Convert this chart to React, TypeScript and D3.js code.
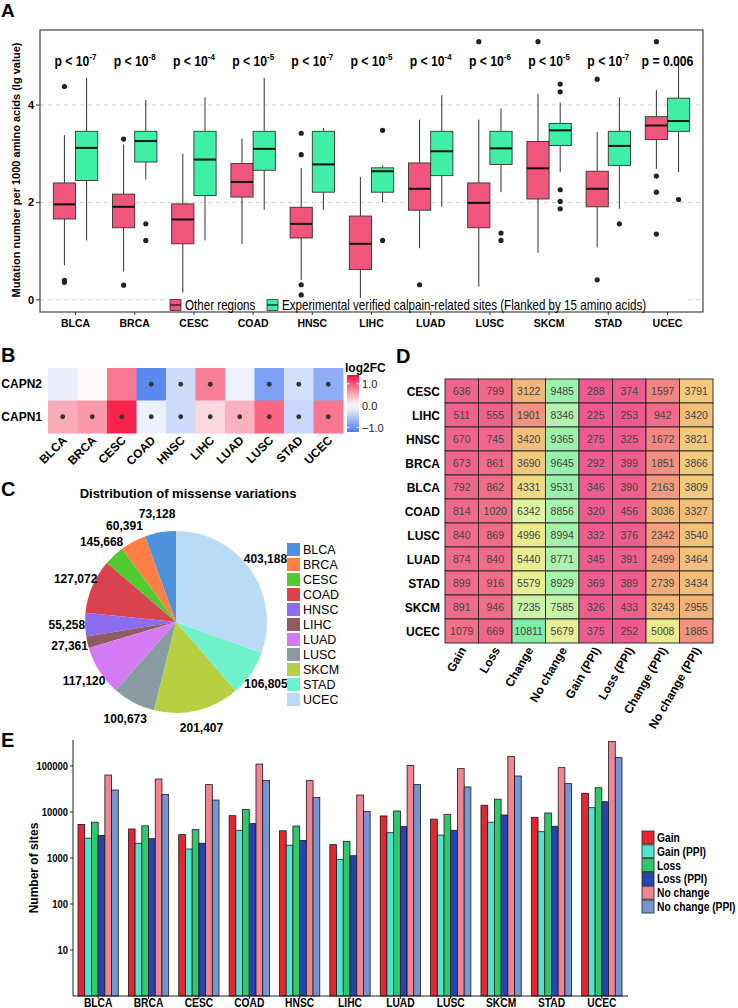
import React from "react";
import * as d3 from "d3";

const FONT = "'Liberation Sans', Arial, sans-serif";

// ---------- Panel A ----------
const categoriesA = ["BLCA", "BRCA", "CESC", "COAD", "HNSC", "LIHC", "LUAD", "LUSC", "SKCM", "STAD", "UCEC"];
// [lower whisker, Q1, median, Q3, upper whisker]
const otherStats = [
  [0.71, 1.66, 1.96, 2.40, 3.38],
  [0.58, 1.48, 1.91, 2.17, 3.19],
  [0.15, 1.15, 1.65, 1.97, 3.00],
  [1.15, 2.11, 2.42, 2.80, 3.31],
  [0.41, 1.27, 1.56, 1.90, 2.71],
  [0.00, 0.62, 1.15, 1.72, 2.52],
  [1.06, 1.84, 2.28, 2.81, 3.70],
  [0.27, 1.48, 1.99, 2.40, 3.70],
  [0.97, 2.07, 2.70, 3.25, 4.23],
  [1.08, 1.91, 2.28, 2.64, 3.45],
  [2.69, 3.29, 3.58, 3.76, 4.31],
];
const otherOutliers = [
  [4.38, 0.40, 0.36], [3.30, 0.30], [], [], [3.42, 2.98, 0.31, 0.10], [],
  [0.31], [5.30], [5.30], [4.53, 0.41], [5.30, 2.54, 2.21, 1.35],
];
const calpainStats = [
  [1.22, 2.45, 3.12, 3.46, 4.56],
  [2.47, 2.83, 3.26, 3.46, 4.10],
  [1.22, 2.14, 2.88, 3.46, 4.16],
  [1.85, 2.66, 3.10, 3.46, 4.56],
  [1.85, 2.21, 2.78, 3.46, 3.53],
  [2.00, 2.21, 2.64, 2.71, 2.76],
  [1.91, 2.55, 3.05, 3.46, 4.20],
  [2.21, 2.78, 3.11, 3.46, 3.93],
  [2.62, 3.17, 3.48, 3.62, 4.05],
  [1.87, 2.76, 3.16, 3.46, 4.16],
  [2.62, 3.46, 3.67, 4.14, 4.87],
];
const calpainOutliers = [
  [], [1.56, 1.22], [], [], [], [3.48, 1.22], [], [1.37, 1.22],
  [4.43, 4.27, 2.26, 2.02, 1.87], [1.56], [2.06],
];
const pExponents = ["-7", "-8", "-4", "-5", "-7", "-5", "-4", "-6", "-5", "-7", ""];
const pExact = ["", "", "", "", "", "", "", "", "", "", "p = 0.006"];
const yTicksA = [0, 2, 4];
const seriesA = ["Other regions", "Experimental verified calpain-related sites (Flanked by 15 amino acids)"];
const colorsA = ["#F0557C", "#3FEFA6"];

// ---------- Panel B ----------
const categoriesB = ["BLCA", "BRCA", "CESC", "COAD", "HNSC", "LIHC", "LUAD", "LUSC", "STAD", "UCEC"];
const genesB = ["CAPN2", "CAPN1"];
const capn2FC = [-0.15, 0.03, 0.8, -1.1, -0.32, 0.75, -0.12, -0.88, -0.28, -0.76];
const capn1FC = [0.5, 0.6, 1.3, -0.13, -0.33, 0.23, 0.46, 0.9, -0.37, 0.8];
const capn2Sig = [0, 0, 0, 1, 1, 1, 0, 1, 1, 1];
const capn1Sig = [1, 1, 1, 1, 1, 1, 1, 1, 1, 1];
const legendTicksB = [1, 0, -1];

// ---------- Panel C ----------
const pieCategories = ["BLCA", "BRCA", "CESC", "COAD", "HNSC", "LIHC", "LUAD", "LUSC", "SKCM", "STAD", "UCEC"];
const pieValues = [73128, 60391, 48000, 127072, 55258, 27361, 117120, 100673, 201407, 106805, 403188];
const pieLabels = ["73,128", "60,391", "145,668", "127,072", "55,258", "27,361", "117,120", "100,673", "201,407", "106,805", "403,188"];
const pieColors = ["#4C93DB", "#FF7F45", "#50CC32", "#D9434F", "#8D6CF2", "#8E5C62", "#D47AF2", "#8A9BA1", "#B8CF42", "#6FF2CB", "#B9DBF6"];

// ---------- Panel D ----------
const rowsD = ["CESC", "LIHC", "HNSC", "BRCA", "BLCA", "COAD", "LUSC", "LUAD", "STAD", "SKCM", "UCEC"];
const colsD = ["Gain", "Loss", "Change", "No change", "Gain (PPI)", "Loss (PPI)", "Change (PPI)", "No change (PPI)"];
const valuesD = [
  [636, 799, 3122, 9485, 288, 374, 1597, 3791],
  [511, 555, 1901, 8346, 225, 253, 942, 3420],
  [670, 745, 3420, 9365, 275, 325, 1672, 3821],
  [673, 861, 3690, 9645, 292, 399, 1851, 3866],
  [792, 862, 4331, 9531, 346, 390, 2163, 3809],
  [814, 1020, 6342, 8856, 320, 456, 3036, 3327],
  [840, 869, 4996, 8994, 332, 376, 2342, 3540],
  [874, 840, 5440, 8771, 345, 391, 2499, 3464],
  [899, 916, 5579, 8929, 369, 389, 2739, 3434],
  [891, 946, 7235, 7585, 326, 433, 3243, 2955],
  [1079, 669, 10811, 5679, 375, 252, 5008, 1885],
];

// ---------- Panel E ----------
const categoriesE = ["BLCA", "BRCA", "CESC", "COAD", "HNSC", "LIHC", "LUAD", "LUSC", "SKCM", "STAD", "UCEC"];
const seriesE = ["Gain", "Gain (PPI)", "Loss", "Loss (PPI)", "No change", "No change (PPI)"];
const colorsE = ["#E3262F", "#50E4D0", "#2FC96B", "#2444B0", "#F1858F", "#7595D6"];
const gainE = [5370, 4270, 3220, 8300, 3900, 1950, 8200, 7000, 14000, 7600, 25500];
const gainPPIE = [2700, 2090, 1570, 4000, 1900, 920, 3550, 3150, 6000, 3730, 12400];
const lossE = [6000, 5000, 4130, 11400, 4950, 2300, 10500, 8900, 19000, 9500, 33600];
const lossPPIE = [3100, 2630, 2090, 5600, 2400, 1120, 4800, 4000, 8600, 4900, 16700];
const noChangeE = [63600, 52000, 39300, 110000, 48000, 23400, 102000, 87500, 160000, 92000, 339000];
const noChangePPIE = [30000, 23900, 18200, 48700, 20800, 10200, 39300, 35000, 60500, 41300, 152000];
const yTicksE = [10, 100, 1000, 10000, 100000];

// condensed text helper: horizontally squeezed Liberation Sans
function NText(props: { x: number; y: number; sx?: number; anchor?: string; size: number; bold?: boolean; children: React.ReactNode }) {
  const { x, y, sx = 0.82, anchor = "start", size, bold, children } = props;
  return (
    <text transform={`translate(${x},${y}) scale(${sx},1)`} textAnchor={anchor} fontFamily={FONT} fontWeight={bold ? "bold" : "normal"} fontSize={size}>
      {children}
    </text>
  );
}

function PanelA() {
  const x = d3.scalePoint<string>().domain(categoriesA).range([40, 703]).padding(0.6);
  const y = d3.scaleLinear().domain([-0.25, 5.54]).range([312, 30]);
  const bw = x.step() * 0.375;
  const groups = [
    { stats: otherStats, out: otherOutliers, off: -bw / 2, color: colorsA[0] },
    { stats: calpainStats, out: calpainOutliers, off: bw / 2, color: colorsA[1] },
  ];
  return (
    <g>
      <text x={1} y={17} fontFamily={FONT} fontWeight="bold" fontSize={19}>A</text>
      {yTicksA.map((t) => (
        <g key={t}>
          <line x1={40} x2={703} y1={y(t)} y2={y(t)} stroke="#cfcfcf" strokeDasharray="4,4" strokeWidth={1} />
          <line x1={36} x2={40} y1={y(t)} y2={y(t)} stroke="#333" />
          <text x={34} y={y(t) + 4} textAnchor="end" fontFamily={FONT} fontWeight="bold" fontSize={11}>{t}</text>
        </g>
      ))}
      {categoriesA.map((c, i) => (
        <g key={c}>
          {groups.map((g, gi) => {
            const s = g.stats[i];
            const cx = (x(c) as number) + g.off;
            return (
              <g key={gi}>
                <line x1={cx} x2={cx} y1={y(s[0])} y2={y(s[1])} stroke="#333" strokeWidth={1} />
                <line x1={cx} x2={cx} y1={y(s[3])} y2={y(s[4])} stroke="#333" strokeWidth={1} />
                <rect x={cx - bw / 2} width={bw} y={y(s[3])} height={y(s[1]) - y(s[3])} fill={g.color} stroke="#333" strokeWidth={0.9} />
                <line x1={cx - bw / 2} x2={cx + bw / 2} y1={y(s[2])} y2={y(s[2])} stroke="#111" strokeWidth={2} />
                {g.out[i].map((o, k) => (
                  <circle key={k} cx={cx} cy={y(o)} r={2.6} fill="#222" />
                ))}
              </g>
            );
          })}
          <NText x={x(c) as number} y={66} anchor="middle" size={14.5} bold sx={0.84}>
            {pExact[i] ? pExact[i] : (
              <>
                {"p < 10"}
                <tspan dy={-6} fontSize={9.5}>{pExponents[i]}</tspan>
              </>
            )}
          </NText>
          <line x1={x(c)} x2={x(c)} y1={312} y2={315} stroke="#333" />
          <text x={x(c)} y={327} textAnchor="middle" fontFamily={FONT} fontWeight="bold" fontSize={10.5}>{c}</text>
        </g>
      ))}
      <rect x={40} y={30} width={663} height={282} fill="none" stroke="#333" strokeWidth={1.1} />
      {/* legend */}
      <rect x={167} y={298} width={518} height={13} fill="white" />
      {seriesA.map((s, i) => {
        const lx = i === 0 ? 170 : 267;
        return (
          <g key={s}>
            <rect x={lx} y={299.5} width={11} height={11} fill={colorsA[i]} stroke="#333" strokeWidth={0.8} />
            <line x1={lx} x2={lx + 11} y1={305} y2={305} stroke="#111" strokeWidth={1.2} />
            <NText x={lx + 15} y={309.5} size={14} sx={0.83}>{s}</NText>
          </g>
        );
      })}
      <text transform="translate(20,170) rotate(-90)" textAnchor="middle" fontFamily={FONT} fontWeight="bold" fontSize={11}>
        Mutation number per 1000 amino acids (lg value)
      </text>
    </g>
  );
}

function PanelB() {
  const x = d3.scaleBand<string>().domain(categoriesB).range([48, 343]);
  const y = d3.scaleBand<string>().domain(genesB).range([368, 433]);
  const color = d3.scaleLinear<string>().domain([-1.2, 0, 1.4]).range(["#4C7DF0", "#FFFFFF", "#F5123C"]);
  const legY = d3.scaleLinear().domain([-1.2, 1.4]).range([432, 375]);
  const rows = [
    { g: "CAPN2", v: capn2FC, s: capn2Sig },
    { g: "CAPN1", v: capn1FC, s: capn1Sig },
  ];
  const stops = d3.range(0, 1.0001, 0.1);
  return (
    <g>
      <text x={1} y={362} fontFamily={FONT} fontWeight="bold" fontSize={20}>B</text>
      {rows.map((r) => (
        <g key={r.g}>
          <text x={42} y={(y(r.g) as number) + y.bandwidth() / 2 + 4} textAnchor="end" fontFamily={FONT} fontWeight="bold" fontSize={12}>{r.g}</text>
          {categoriesB.map((c, i) => (
            <g key={c}>
              <rect x={x(c)} y={y(r.g)} width={x.bandwidth() + 0.5} height={y.bandwidth() + 0.5} fill={color(r.v[i])} />
              {r.s[i] ? <circle cx={(x(c) as number) + x.bandwidth() / 2} cy={(y(r.g) as number) + y.bandwidth() / 2} r={2.4} fill="#333" /> : null}
            </g>
          ))}
        </g>
      ))}
      {categoriesB.map((c) => (
        <text key={c} transform={`translate(${(x(c) as number) + x.bandwidth() / 2 + 5},${441}) rotate(-45)`} textAnchor="end" fontFamily={FONT} fontWeight="bold" fontSize={12}>{c}</text>
      ))}
      <defs>
        <linearGradient id="fcgrad" x1="0" x2="0" y1="1" y2="0">
          {stops.map((t) => (
            <stop key={t} offset={t} stopColor={color(-1.2 + t * 2.6)} />
          ))}
        </linearGradient>
      </defs>
      <text x={345} y={372} fontFamily={FONT} fontWeight="bold" fontSize={12}>log2FC</text>
      <rect x={347} y={375} width={12} height={57} fill="url(#fcgrad)" />
      {legendTicksB.map((t) => (
        <g key={t}>
          <line x1={347} x2={349.5} y1={legY(t)} y2={legY(t)} stroke="white" />
          <line x1={356.5} x2={359} y1={legY(t)} y2={legY(t)} stroke="white" />
          <text x={362} y={legY(t) + 4} fontFamily={FONT} fontSize={11} fill="#222">{t === 0 ? "0.0" : t > 0 ? "1.0" : "\u22121.0"}</text>
        </g>
      ))}
    </g>
  );
}

function PanelC() {
  const cx = 176, cy = 622, r = 91;
  const pie = d3.pie<number>().sort(null).startAngle(0).endAngle(-2 * Math.PI);
  const arcs = pie(pieValues);
  const arc = d3.arc<d3.PieArcDatum<number>>().innerRadius(0).outerRadius(r);
  const labelArc = d3.arc<d3.PieArcDatum<number>>().innerRadius(r * 1.2).outerRadius(r * 1.2);
  return (
    <g>
      <text x={1} y={496} fontFamily={FONT} fontWeight="bold" fontSize={20}>C</text>
      <text x={188} y={498} textAnchor="middle" fontFamily={FONT} fontWeight="bold" fontSize={13}>Distribution of missense variations</text>
      <g transform={`translate(${cx},${cy})`}>
        {arcs.map((a, i) => (
          <path key={i} d={arc(a) as string} fill={pieColors[i]} />
        ))}
        {arcs.map((a, i) => {
          const [lx, ly] = labelArc.centroid(a);
          return (
            <text key={i} x={lx} y={ly + 4} textAnchor="middle" fontFamily={FONT} fontWeight="bold" fontSize={12}>{pieLabels[i]}</text>
          );
        })}
      </g>
      {pieCategories.map((c, i) => (
        <g key={c}>
          <rect x={287} y={543 + i * 15} width={13} height={13} fill={pieColors[i]} />
          <text x={303} y={554 + i * 15} fontFamily={FONT} fontSize={12.5}>{c}</text>
        </g>
      ))}
    </g>
  );
}

function PanelD() {
  const x = d3.scaleBand<string>().domain(colsD).range([445, 713]);
  const y = d3.scaleBand<string>().domain(rowsD).range([379, 643]);
  const color = d3.scaleLinear<string>()
    .domain([200, 1000, 2000, 3000, 4000, 5000, 6500, 8500, 11000])
    .range(["#EE5890", "#F06E8A", "#F29580", "#F4B478", "#F2D07E", "#ECEA8E", "#DDF5A4", "#B0F3AE", "#7CEEA8"]);
  return (
    <g>
      <text x={396} y={363} fontFamily={FONT} fontWeight="bold" fontSize={20}>D</text>
      {rowsD.map((rw, ri) => (
        <g key={rw}>
          <text x={440} y={(y(rw) as number) + y.bandwidth() / 2 + 4.5} textAnchor="end" fontFamily={FONT} fontWeight="bold" fontSize={12}>{rw}</text>
          {colsD.map((cl, ci) => (
            <g key={cl}>
              <rect x={x(cl)} y={y(rw)} width={x.bandwidth()} height={y.bandwidth()} fill={color(valuesD[ri][ci])} stroke="#222" strokeWidth={0.9} />
              <text x={(x(cl) as number) + x.bandwidth() / 2} y={(y(rw) as number) + y.bandwidth() / 2 + 4} textAnchor="middle" fontFamily={FONT} fontSize={10.5} fill="#444">{valuesD[ri][ci]}</text>
            </g>
          ))}
        </g>
      ))}
      {colsD.map((cl) => (
        <text key={cl} transform={`translate(${(x(cl) as number) + x.bandwidth() / 2 + 5},${650}) rotate(-60)`} textAnchor="end" fontFamily={FONT} fontWeight="bold" fontSize={12}>{cl}</text>
      ))}
    </g>
  );
}

function PanelE() {
  const x0 = d3.scaleBand<string>().domain(categoriesE).range([78, 622]).paddingInner(0.2);
  const x1 = d3.scaleBand<string>().domain(seriesE).range([0, x0.bandwidth()]);
  const y = d3.scaleLog().domain([1, 367000]).range([996, 740]);
  const series = [gainE, gainPPIE, lossE, lossPPIE, noChangeE, noChangePPIE];
  return (
    <g>
      <text x={1} y={747} fontFamily={FONT} fontWeight="bold" fontSize={20}>E</text>
      {categoriesE.map((c, i) => (
        <g key={c} transform={`translate(${x0(c)},0)`}>
          {seriesE.map((s, si) => (
            <rect key={s} x={x1(s)} width={x1.bandwidth()} y={y(series[si][i])} height={y(1) - y(series[si][i])} fill={colorsE[si]} stroke="#1a1a1a" strokeWidth={0.8} />
          ))}
        </g>
      ))}
      <line x1={73} x2={73} y1={740} y2={996} stroke="#222" strokeWidth={1} />
      <line x1={73} x2={628} y1={996} y2={996} stroke="#222" strokeWidth={1} />
      {yTicksE.map((t) => (
        <g key={t}>
          <line x1={70} x2={73} y1={y(t)} y2={y(t)} stroke="#222" />
          <NText x={68} y={y(t) + 4} anchor="end" size={11.5} bold>{t}</NText>
        </g>
      ))}
      {categoriesE.map((c) => (
        <g key={c}>
          <line x1={(x0(c) as number) + x0.bandwidth() / 2} x2={(x0(c) as number) + x0.bandwidth() / 2} y1={996} y2={999} stroke="#222" />
          <NText x={(x0(c) as number) + x0.bandwidth() / 2} y={1007} anchor="middle" size={12.5} bold>{c}</NText>
        </g>
      ))}
      <text transform="translate(38,868) rotate(-90)" textAnchor="middle" fontFamily={FONT} fontWeight="bold" fontSize={12}>Number of sites</text>
      {seriesE.map((s, i) => (
        <g key={s}>
          <rect x={642} y={831 + i * 13.8} width={12} height={13} fill={colorsE[i]} stroke="#333" strokeWidth={0.9} />
          <NText x={657} y={842 + i * 13.8} size={12.5} bold>{s}</NText>
        </g>
      ))}
    </g>
  );
}

export default function App() {
  return (
    <svg width={738} height={1008} style={{ position: "absolute", left: 0, top: 0, background: "white" }}>
      <rect width={738} height={1008} fill="white" />
      <PanelA />
      <PanelB />
      <PanelC />
      <PanelD />
      <PanelE />
    </svg>
  );
}
